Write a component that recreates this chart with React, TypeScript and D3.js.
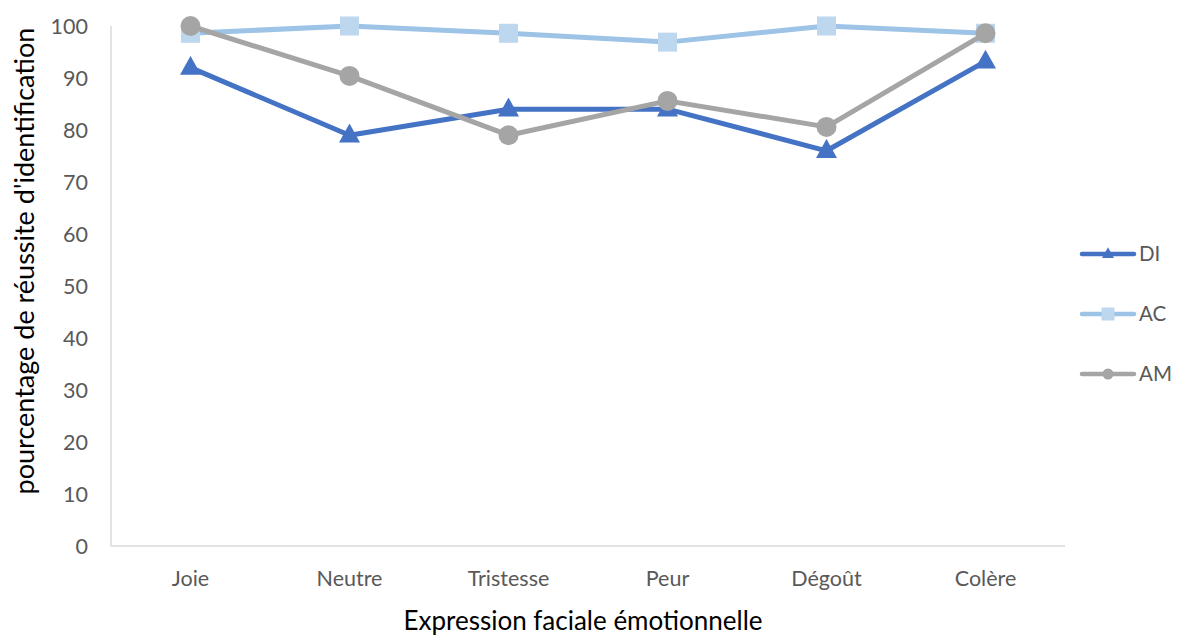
import React from "react";
import * as d3 from "d3";

const categories = ["Joie", "Neutre", "Tristesse", "Peur", "Dégoût", "Colère"];
const seriesNames = ["DI", "AC", "AM"];
const diValues = [92, 79, 84, 84, 76, 93.2];
const acValues = [98.6, 100, 98.6, 96.9, 100, 98.6];
const amValues = [100, 90.4, 79, 85.6, 80.6, 98.6];
const yTicks = [0, 10, 20, 30, 40, 50, 60, 70, 80, 90, 100];

const W = 1184;
const H = 636;
const left = 111;
const right = 1065;
const top = 26;
const bottom = 546;
const font = "Lato, 'Open Sans', sans-serif";

const styles: Record<string, { line: string; marker: string; shape: string }> = {
  DI: { line: "#4472C4", marker: "#4472C4", shape: "triangle" },
  AC: { line: "#9DC3E6", marker: "#BDD7EE", shape: "square" },
  AM: { line: "#A5A5A5", marker: "#A5A5A5", shape: "circle" },
};

function Marker({ shape, x, y, color, size }: { shape: string; x: number; y: number; color: string; size: number }) {
  if (shape === "triangle") {
    const h = size * 0.9;
    return (
      <path
        d={`M${x},${y - h * 0.62} L${x + size / 2},${y + h * 0.38} L${x - size / 2},${y + h * 0.38} Z`}
        fill={color}
      />
    );
  }
  if (shape === "square") {
    return <rect x={x - size / 2} y={y - size / 2} width={size} height={size} fill={color} />;
  }
  return <circle cx={x} cy={y} r={size / 2} fill={color} />;
}

export default function App() {
  const x = d3.scaleBand<string>().domain(categories).range([left, right]);
  const y = d3.scaleLinear().domain([0, 100]).range([bottom, top]);
  const cx = (c: string) => (x(c) as number) + x.bandwidth() / 2;
  const data: Record<string, number[]> = { DI: diValues, AC: acValues, AM: amValues };
  const line = d3
    .line<number>()
    .x((_, i) => cx(categories[i]))
    .y((v) => y(v));

  const markerSize: Record<string, number> = { triangle: 21, square: 19, circle: 20 };
  const legendSize: Record<string, number> = { triangle: 12, square: 13, circle: 11 };

  return (
    <svg
      width={W}
      height={H}
      style={{ position: "absolute", left: 0, top: 0, background: "#fff" }}
      fontFamily={font}
    >
      <line x1={left} x2={left} y1={top} y2={bottom} stroke="#D9D9D9" strokeWidth={1.5} />
      <line x1={left} x2={right} y1={bottom} y2={bottom} stroke="#D9D9D9" strokeWidth={1.5} />
      {yTicks.map((t) => (
        <text key={t} x={88} y={y(t)} dy="0.35em" textAnchor="end" fontSize={21.5} fill="#595959">
          {t}
        </text>
      ))}
      {categories.map((c) => (
        <text key={c} x={cx(c)} y={578} dy="0.35em" textAnchor="middle" fontSize={21.5} fill="#595959">
          {c}
        </text>
      ))}
      <text x={583} y={621} dy="0.35em" textAnchor="middle" fontSize={26} fill="#000">
        Expression faciale émotionnelle
      </text>
      <text
        transform={`translate(25,${(top + bottom) / 2 - 25}) rotate(-90)`}
        dy="0.35em"
        textAnchor="middle"
        fontSize={27}
        fill="#000"
      >
        pourcentage de réussite d'identification
      </text>
      {seriesNames.map((s) => (
        <g key={s}>
          <path
            d={line(data[s]) as string}
            fill="none"
            stroke={styles[s].line}
            strokeWidth={5}
            strokeLinejoin="round"
            strokeLinecap="round"
          />
          {data[s].map((v, i) => (
            <Marker
              key={i}
              shape={styles[s].shape}
              x={cx(categories[i])}
              y={y(v)}
              color={styles[s].marker}
              size={markerSize[styles[s].shape]}
            />
          ))}
        </g>
      ))}
      {seriesNames.map((s, i) => {
        const ly = 254 + i * 60;
        return (
          <g key={s}>
            <line x1={1082} x2={1134} y1={ly} y2={ly} stroke={styles[s].line} strokeWidth={4.5} strokeLinecap="round" />
            <Marker shape={styles[s].shape} x={1108} y={ly} color={styles[s].marker} size={legendSize[styles[s].shape]} />
            <text x={1139} y={ly} dy="0.35em" fontSize={20.5} fill="#595959">
              {s}
            </text>
          </g>
        );
      })}
    </svg>
  );
}
